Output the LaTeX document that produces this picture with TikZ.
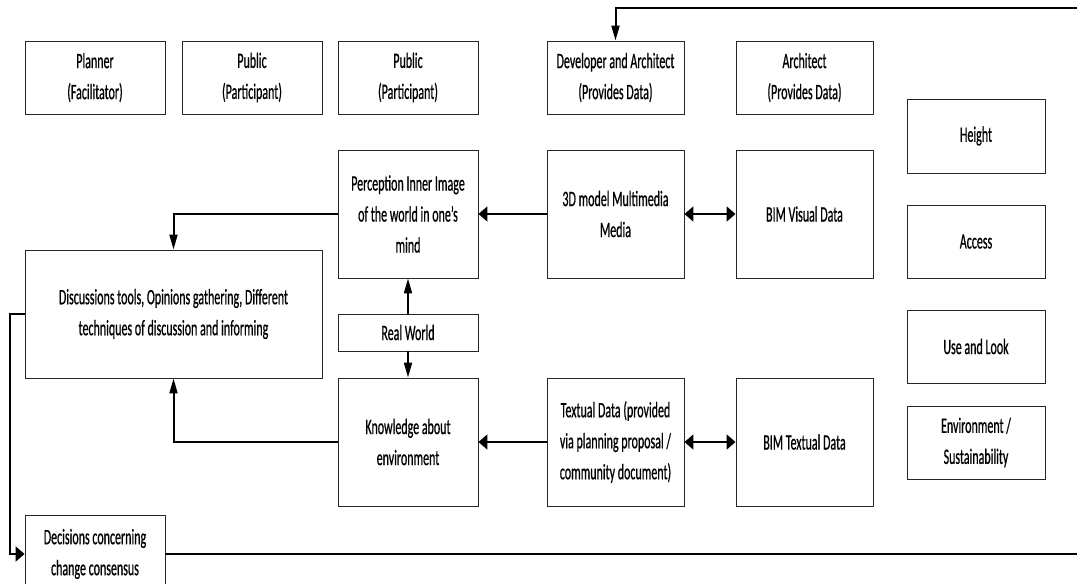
\documentclass[tikz,border=0pt]{standalone}
\usepackage{fontspec}
\setmainfont{Carlito}[FakeStretch=0.545,FakeBold=0.6]
\usetikzlibrary{arrows.meta}
\begin{document}
\begin{tikzpicture}[x=1pt,y=-1pt,
  box/.style={draw=black!85,line width=0.9pt,rectangle,inner sep=0pt,align=center,
    font=\fontsize{22}{31}\selectfont},
  conn/.style={line width=2pt,black},
  htip/.style={-{Triangle[length=9pt,width=15pt]}},
  hboth/.style={{Triangle[length=9pt,width=15pt]}-{Triangle[length=9pt,width=15pt]}},
  vtip/.style={-{Triangle[length=15pt,width=8pt]}}]
\useasboundingbox (0,0) rectangle (1077,584);
\clip (0,0) rectangle (1077,584);

% roles along the top
\node[box,minimum width=140,minimum height=73] (planner) at (95,77.5) {Planner\\(Facilitator)};
\node[box,minimum width=140,minimum height=73] (pub1) at (252,77.5) {Public\\(Participant)};
\node[box,minimum width=140,minimum height=73] (pub2) at (408,77.5) {Public\\(Participant)};
\node[box,minimum width=137,minimum height=73] (dev) at (615.5,77.5) {Developer and Architect\\(Provides Data)};
\node[box,minimum width=137,minimum height=73] (arch) at (804.5,77.5) {Architect\\(Provides Data)};

% criteria column
\node[box,minimum width=138,minimum height=74] (height) at (976,136) {Height};
\node[box,minimum width=138,minimum height=73] (access) at (976,241.5) {Access};
\node[box,minimum width=138,minimum height=73] (use) at (976,346.5) {Use and Look};
\node[box,minimum width=138,minimum height=73] (env) at (976,442.5) {Environment /\\Sustainability};

% perception chain
\node[box,minimum width=140,minimum height=128] (percep) at (408,214) {Perception Inner Image\\of the world in one’s\\mind};
\node[box,minimum width=137,minimum height=128] (model) at (615.5,214) {3D model Multimedia\\Media};
\node[box,minimum width=137,minimum height=128] (bimvis) at (804.5,214) {BIM Visual Data};

\node[box,minimum width=297,minimum height=128] (disc) at (173.5,314) {Discussions tools, Opinions gathering, Different\\techniques of discussion and informing};
\node[box,minimum width=140,minimum height=37] (real) at (408,332.5) {Real World};

% knowledge chain
\node[box,minimum width=140,minimum height=128] (know) at (408,442) {Knowledge about\\environment};
\node[box,minimum width=137,minimum height=128] (textual) at (615.5,442) {Textual Data (provided\\via planning proposal /\\community document)};
\node[box,minimum width=137,minimum height=128] (bimtxt) at (804.5,442) {BIM Textual Data};

\node[box,minimum width=140,minimum height=78] (decis) at (95,554) {Decisions concerning\\change consensus};

% feedback lines running off to the right
\coordinate (topR) at (1085,8);
\coordinate (botR) at (1085,554);

% connectors
\draw[conn,vtip] (topR) -| (dev.north);
\draw[conn,htip] (model.west) -- (percep.east);
\draw[conn,hboth] (model.east) -- (bimvis.west);
\draw[conn,vtip] (percep.west) -| (disc.north);
\draw[conn,vtip] (real.north) -- (percep.south);
\draw[conn,vtip] (real.south) -- (know.north);
\draw[conn,htip] (textual.west) -- (know.east);
\draw[conn,hboth] (textual.east) -- (bimtxt.west);
\draw[conn,vtip] (know.west) -| (disc.south);
\draw[conn,htip] (disc.west) -- ++(-15,0) |- (decis.west);
\draw[conn] (decis.east) -- (botR);
\end{tikzpicture}
\end{document}
